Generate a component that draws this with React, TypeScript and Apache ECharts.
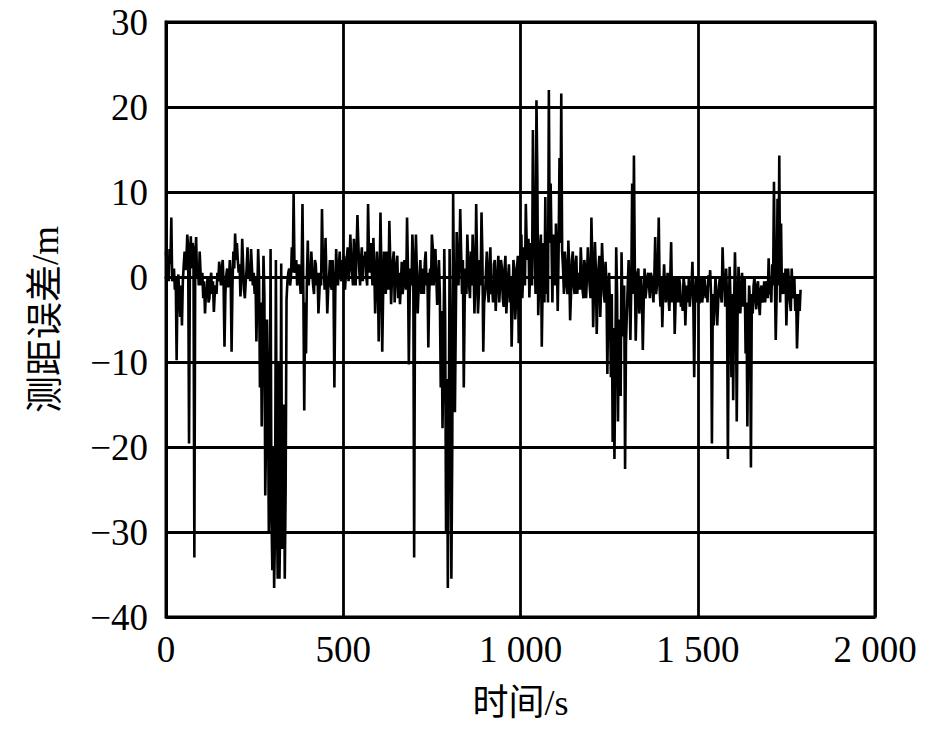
import React, { useEffect, useRef } from "react";
import * as echarts from "echarts";

// Sampling step of the record (s); the "mid" samples sit half a step later
const timeStep = 5;

// Ranging error (m) at t = 0, 5, 10, ... s, grouped by 100 s
const err0000 = [3, 2, 3.3, 7, 0.5, -1.5, -9.8, 0.3, -4.7, -5.7, 1.4, 0.8, 5, -19.6, 4.8, 4, -33, 4.7, 1.5, 3];
const err0100 = [-1, -2.5, -4.3, -1.5, -3, -0.5, -2, -4.1, -1, 0.5, 1.8, -1, 2, -8.2, 0.2, -1.2, 2, -8.8, 3, 5.1];
const err0200 = [4, 0.5, -2.3, 4.5, -1.5, -0.5, 3.5, 1, 3.3, -1, -2, -7.6, 3.3, -13, -17.6, 2.5, -25.7, -5, -30, 3.3];
const err0300 = [-34.5, -36.6, 2, -35.5, -35.5, 1.6, -20, -35.5, -2.7, 0.5, -1, 3.5, 9.8, 0.5, -1, 1.5, -2, 8.6, -15.7, -9];
const err0400 = [4.3, 1, 3, -1, 2, -1, -4.3, 0.5, 8, 1, 4.6, -4.3, 0, -1, 2, -13, 3.3, -1, 3, -0.5];
const err0500 = [1, -1.5, 2, -0.5, 5, 0.5, 4.5, -1, 7.3, 1, 2, -0.5, 1.5, 0, 8.6, 0.5, 1, 4.6, -4.3, 3];
const err0600 = [-7.6, 7.6, -8.8, 3, -2, 1.5, 6.6, -3.2, 2, -3, 1.5, -2.5, -3.2, 1.8, -1, 0, 7, -10.3, 1, 5];
const err0700 = [-33, 5, -4.3, 0, -2, 1, 1.7, -1, -8.3, 1, 5, -1, 3.3, -3.3, 2, -13, -17.8, 3.3, -30, -36.6];
const err0800 = [3.3, -35.5, 9.8, -15.9, 5.3, -1, 8, -2, -13, 1, 5, -1, 3, 5, -4.3, 8.6, -4.3, 2, 7.6, -8.8];
const err0900 = [-2, 3, -3, 3.5, -1, 1.5, -4, 0.5, -3, 2, -2.5, 1, -4.3, 0, -3, -8.2, 2, -5, 1, -7.8];
const err1000 = [2.5, -2.5, 3.5, 8.6, 2, -2.4, 4, 17.3, 3, 20.8, -4.5, 3.5, -8.2, 4, 9.4, 3, 22, 11, -3, 3.5];
const err1100 = [6.3, -4, 14, 21.6, 1, 3, -1, 4.3, -5.1, 2, -1, 1.5, -2, 0.5, 3.5, -1.5, 2, -2.5, 3.5, -1];
const err1200 = [7, -5.9, 4.1, -6.7, 1, -4.7, 4, -2, 1.8, -11.4, 0.5, -11.8, -19.4, -21.4, 3.5, -17, -11, 2.9, -7, -22.6];
const err1300 = [-4.3, 2, -7.4, 11, 14.3, -7.5, 0.5, -4.3, 0, -8.6, 1, -1.5, 0.5, -2.5, 0, -3, 4.7, -1, 7, -3.5];
const err1400 = [-5.9, 1.5, -3, 0.5, -4, 4.1, -1.5, -6.7, 0, -3, -1, -2.5, 0, -5.7, -1, 0, -2, 1.8, -11.8, 0];
const err1500 = [-1.5, -3.1, 0, -2, -0.5, -1, 0.2, 0.8, -19.6, -5.7, 0, -5.7, -1, -2, 3.5, -1, 1, -21.4, 1.2, -11.8];
const err1600 = [-14.5, 2.9, -17, 1.2, -4.3, 0.5, -2, -9, -17.6, -1, -22.4, -4.3, 0, -3.8, -0.5, -4.5, -1, -2, -3, -0.5];
const err1700 = [2.2, -1, 1.5, 11.2, -7.4, 9.2, 14.3, 6.3, -1, -2, -5.7, 1, -3, 1, -2.5, -4, -8.4, -2, -1.5];

// Ranging error (m) at t = 2.5, 7.5, 12.5, ... s, grouped by 100 s
const mid0000 = [0.5, -0.5, 1.5, -0.5, 1, 0, -1, -2.5, -1, -0.5, 3, 2, 3.5, 2, 1, 3, 2.5, 0, -1, 0.5];
const mid0100 = [0.5, -0.5, -2, 0, -2.5, 0.5, -0.5, -2, -2, -0.5, 0.5, 1, -1, -2, 1, -0.5, 0, -1, 1, 2];
const mid0200 = [2, 1.5, 0, 1.5, -2.5, 1, 0, -0.5, 1, 0.5, 0, -2, 0, -3, -8, -2, -18, -12, -22, -28];
const mid0300 = [-20, -30, -25, -10, -28, -32, -15, -25, -0.5, 1, 0, 0.5, 1, 2, 0, -0.5, 0.5, -2, -3, 0];
const mid0400 = [-1, 0, 0.5, -2, 1.5, 0.5, -2, -1, 2, -1.5, 0, -1.5, 2, -1.5, -1, -2, 0.5, 1, 0, 2];
const mid0500 = [2.5, 0.5, 3.5, 1, 2, -1, 2, 3, 4, -1, 3.5, 2.5, 3, -1, 3, 4, -1, 1, -1, 0.5];
const mid0600 = [-1, 1, -2, 0.5, 3, -1.5, 2, 0, 3, -0.5, 2.5, 0.5, -1, -2, 2, -1.5, 1, -2, -1, 2];
const mid0700 = [-1, 1, -1.5, 2, -0.5, -2, 3, 0.5, -2, -1, 3.5, 1.5, 0, -1, -2, -4, -10, -5, -12, -20];
const mid0800 = [-8, -20, -2, -5, 1, 2, 3, 2, -3, -2, 2, -2.5, -1, 2, -1, 2, -2, -1, 2.5, -3];
const mid0900 = [0.5, -1, 1, -2, -3, 2, -1.5, 2.5, -1, 1, -3.5, 2.5, -2, 1.5, 0, -3, 1, -3, 2.5, -2];
const mid1000 = [5, 0, -1, 4, 4.5, 1, -1, 6, -2, 12, -1, 5, -1, -3, -2, -3, 4, 4, 5, -1];
const mid1100 = [2, 3, 4, 3, -2, 1.5, -2, 1, -2, 3, -2, 2.5, -0.5, -1.5, 1, -2.5, 1, 0, 1, -2.5];
const mid1200 = [2, -1, 1, -2, 2.5, -1, 1, -3, -1, -3, -4, -2, -6, -10, -2, -5, -14, -3, -1, -8];
const mid1300 = [-1, -2, -1, -2, 1, -3, 1, -2.5, -2, -3, -2.5, 0, -1, 0.5, -1.5, 0, -2, 1, -1.5, 0];
const mid1400 = [-2, -1, -1, -2.5, 0, -3, 0, -3, -1, 0, -3.5, -4, -1, -2.5, -3, -3.5, -1, -3, -2, -3];
const mid1500 = [0, -1, -3, 0, -2.5, -3, -1, -2, -2, -3, -2, -3, 0, -3, 0, -3.5, -2, -5, -3, -2];
const mid1600 = [-3, -2, -4, -1.5, -2, -3.5, 0, -3, -6, -3, -2, -1, -2.5, -1, -3, -1.5, -3, -0.5, -1.5, -2.5];
const mid1700 = [-2, -3, -1, 0, -2, -1, -3, -2, 0.5, 1, -2, -1, -4, -2, 0, -2, -5, -4];

const rangeError = [
  ...err0000, ...err0100, ...err0200, ...err0300, ...err0400, ...err0500,
  ...err0600, ...err0700, ...err0800, ...err0900, ...err1000, ...err1100,
  ...err1200, ...err1300, ...err1400, ...err1500, ...err1600, ...err1700,
];
const rangeErrorMid = [
  ...mid0000, ...mid0100, ...mid0200, ...mid0300, ...mid0400, ...mid0500,
  ...mid0600, ...mid0700, ...mid0800, ...mid0900, ...mid1000, ...mid1100,
  ...mid1200, ...mid1300, ...mid1400, ...mid1500, ...mid1600, ...mid1700,
];

// Axis ticks
const xTicks = [0, 500, 1000, 1500, 2000];
const yTicks = [-40, -30, -20, -10, 0, 10, 20, 30];

const xName = "时间/s";
const yName = "测距误差/m";

const FONT = "'Liberation Serif', 'Times New Roman', 'Noto Sans CJK SC', serif";

export default function App() {
  const ref = useRef<HTMLDivElement>(null);

  useEffect(() => {
    if (!ref.current) return;
    const chart = echarts.init(ref.current, undefined, { renderer: "svg" });
    const data: number[][] = [];
    rangeError.forEach((v, i) => {
      data.push([i * timeStep, v]);
      if (i < rangeErrorMid.length && i < rangeError.length - 1) {
        data.push([i * timeStep + timeStep / 2, rangeErrorMid[i]]);
      }
    });
    const fmtX = (v: number) => {
      const s = String(v);
      return s.length > 3 ? s.slice(0, s.length - 3) + " " + s.slice(s.length - 3) : s;
    };
    chart.setOption({
      animation: false,
      backgroundColor: "#fff",
      grid: {
        left: 166,
        right: 70,
        top: 22,
        bottom: 116,
        show: true,
        borderColor: "#000",
        borderWidth: 3,
        containLabel: false,
      },
      xAxis: {
        type: "value",
        min: xTicks[0],
        max: xTicks[xTicks.length - 1],
        interval: xTicks[1] - xTicks[0],
        name: xName,
        nameLocation: "middle",
        nameGap: 68,
        nameTextStyle: { fontFamily: FONT, fontSize: 36, color: "#000" },
        axisLine: { show: true, lineStyle: { color: "#000", width: 3 } },
        axisTick: { show: false },
        axisLabel: {
          color: "#000",
          fontFamily: FONT,
          fontSize: 37,
          margin: 14,
          formatter: fmtX,
        },
        splitLine: { show: true, lineStyle: { color: "#000", width: 2.8 } },
      },
      yAxis: {
        type: "value",
        min: yTicks[0],
        max: yTicks[yTicks.length - 1],
        interval: yTicks[1] - yTicks[0],
        name: yName,
        nameLocation: "middle",
        nameGap: 102,
        nameTextStyle: { fontFamily: FONT, fontSize: 37, color: "#000" },
        axisLine: { show: true, lineStyle: { color: "#000", width: 3 } },
        axisTick: { show: false },
        axisLabel: {
          color: "#000",
          fontFamily: FONT,
          fontSize: 37,
          margin: 18,
          formatter: (v: number) => String(v).replace("-", "\u2212"),
        },
        splitLine: { show: true, lineStyle: { color: "#000", width: 2.8 } },
      },
      series: [
        {
          type: "line",
          data,
          showSymbol: false,
          symbol: "none",
          lineStyle: { color: "#000", width: 2.6, join: "miter", miterLimit: 2 },
          z: 3,
        },
      ],
    });
    return () => chart.dispose();
  }, []);

  return <div ref={ref} style={{ width: 945, height: 733, margin: -8 }} />;
}
